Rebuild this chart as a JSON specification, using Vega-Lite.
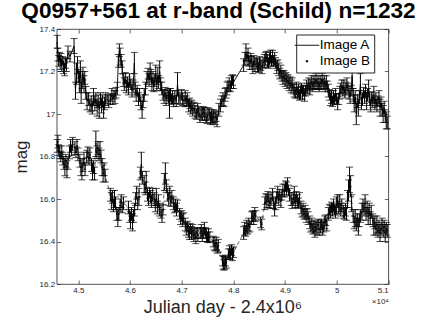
{
"$schema": "https://vega.github.io/schema/vega-lite/v6.json",
"width": 331.6, "height": 255,
"autosize": {"type": "none"},
"padding": {"left": 56.7, "top": 29, "right": 40.7, "bottom": 38},
"title": {"text": "Q0957+561 at r-band (Schild) n=1232", "font": "Liberation Sans", "fontSize": 22.6, "fontWeight": "bold", "color": "black", "anchor": "middle", "frame": "group", "baseline": "alphabetic", "offset": 11, "dx": -4, "dy": 26.5},
"datasets": {
"A": [
{"t":44590,"m":17.34,"e":0.03},{"t":44605,"m":17.28,"e":0.03},{"t":44620,"m":17.25,"e":0.025},{"t":44635,"m":17.27,"e":0.02},{"t":44650,"m":17.24,"e":0.03},{"t":44665,"m":17.26,"e":0.025},{"t":44680,"m":17.23,"e":0.03},{"t":44700,"m":17.25,"e":0.02},{"t":44715,"m":17.22,"e":0.03},{"t":44735,"m":17.21,"e":0.03},{"t":44750,"m":17.24,"e":0.025},{"t":44770,"m":17.23,"e":0.03},{"t":44800,"m":17.29,"e":0.03},{"t":44840,"m":17.27,"e":0.025},{"t":44918,"m":17.32,"e":0.035},{"t":44945,"m":17.11,"e":0.04},{"t":44965,"m":17.19,"e":0.05},{"t":44985,"m":17.23,"e":0.04},{"t":45000,"m":17.18,"e":0.03},{"t":45020,"m":17.15,"e":0.05},{"t":45040,"m":17.21,"e":0.04},{"t":45055,"m":17.10,"e":0.05},{"t":45075,"m":17.16,"e":0.04},{"t":45090,"m":17.19,"e":0.03},{"t":45110,"m":17.14,"e":0.04},{"t":45125,"m":17.17,"e":0.03},{"t":45145,"m":17.10,"e":0.03},{"t":45170,"m":17.06,"e":0.04},{"t":45200,"m":17.07,"e":0.03},{"t":45225,"m":17.04,"e":0.03},{"t":45250,"m":17.05,"e":0.035},{"t":45270,"m":17.03,"e":0.03},{"t":45295,"m":17.08,"e":0.04},{"t":45320,"m":17.05,"e":0.035},{"t":45340,"m":17.07,"e":0.03},{"t":45365,"m":17.03,"e":0.04},{"t":45385,"m":17.06,"e":0.03},{"t":45405,"m":17.02,"e":0.04},{"t":45430,"m":17.07,"e":0.03},{"t":45450,"m":17.04,"e":0.035},{"t":45470,"m":17.06,"e":0.03},{"t":45490,"m":17.02,"e":0.04},{"t":45510,"m":17.05,"e":0.03},{"t":45530,"m":17.07,"e":0.03},{"t":45560,"m":17.07,"e":0.02},{"t":45590,"m":17.06,"e":0.03},{"t":45620,"m":17.07,"e":0.025},{"t":45650,"m":17.09,"e":0.03},{"t":45670,"m":17.07,"e":0.025},{"t":45690,"m":17.09,"e":0.02},{"t":45710,"m":17.08,"e":0.03},{"t":45730,"m":17.10,"e":0.025},{"t":45755,"m":17.12,"e":0.03},{"t":45775,"m":17.25,"e":0.03},{"t":45795,"m":17.30,"e":0.03},{"t":45810,"m":17.27,"e":0.04},{"t":45830,"m":17.25,"e":0.03},{"t":45850,"m":17.22,"e":0.03},{"t":45870,"m":17.16,"e":0.03},{"t":45890,"m":17.14,"e":0.03},{"t":45910,"m":17.17,"e":0.025},{"t":45930,"m":17.13,"e":0.03},{"t":45950,"m":17.15,"e":0.025},{"t":45970,"m":17.12,"e":0.03},{"t":45990,"m":17.16,"e":0.03},{"t":46015,"m":17.14,"e":0.025},{"t":46040,"m":17.11,"e":0.03},{"t":46060,"m":17.13,"e":0.03},{"t":46085,"m":17.24,"e":0.05},{"t":46100,"m":17.12,"e":0.03},{"t":46120,"m":17.09,"e":0.03},{"t":46140,"m":17.11,"e":0.025},{"t":46165,"m":17.07,"e":0.03},{"t":46185,"m":17.09,"e":0.03},{"t":46210,"m":17.05,"e":0.03},{"t":46235,"m":17.02,"e":0.04},{"t":46255,"m":17.06,"e":0.03},{"t":46275,"m":17.09,"e":0.03},{"t":46300,"m":17.12,"e":0.03},{"t":46330,"m":17.17,"e":0.03},{"t":46350,"m":17.19,"e":0.025},{"t":46370,"m":17.16,"e":0.03},{"t":46390,"m":17.20,"e":0.04},{"t":46410,"m":17.18,"e":0.03},{"t":46425,"m":17.14,"e":0.03},{"t":46445,"m":17.17,"e":0.03},{"t":46460,"m":17.13,"e":0.025},{"t":46480,"m":17.16,"e":0.03},{"t":46500,"m":17.19,"e":0.04},{"t":46520,"m":17.14,"e":0.03},{"t":46540,"m":17.18,"e":0.04},{"t":46555,"m":17.15,"e":0.03},{"t":46575,"m":17.20,"e":0.05},{"t":46595,"m":17.14,"e":0.03},{"t":46615,"m":17.12,"e":0.03},{"t":46640,"m":17.09,"e":0.025},{"t":46660,"m":17.08,"e":0.03},{"t":46680,"m":17.10,"e":0.025},{"t":46700,"m":17.07,"e":0.03},{"t":46720,"m":17.09,"e":0.025},{"t":46745,"m":17.08,"e":0.03},{"t":46765,"m":17.05,"e":0.07},{"t":46785,"m":17.09,"e":0.03},{"t":46805,"m":17.07,"e":0.025},{"t":46825,"m":17.08,"e":0.03},{"t":46845,"m":17.06,"e":0.025},{"t":46870,"m":17.08,"e":0.03},{"t":46895,"m":17.06,"e":0.025},{"t":46920,"m":17.14,"e":0.055},{"t":46945,"m":17.08,"e":0.03},{"t":46970,"m":17.07,"e":0.025},{"t":47000,"m":17.09,"e":0.025},{"t":47020,"m":17.07,"e":0.03},{"t":47045,"m":17.06,"e":0.025},{"t":47070,"m":17.08,"e":0.03},{"t":47090,"m":17.06,"e":0.025},{"t":47110,"m":17.07,"e":0.03},{"t":47135,"m":17.04,"e":0.03},{"t":47155,"m":17.05,"e":0.025},{"t":47175,"m":17.03,"e":0.03},{"t":47195,"m":17.04,"e":0.025},{"t":47215,"m":17.02,"e":0.03},{"t":47240,"m":17.03,"e":0.025},{"t":47260,"m":17.01,"e":0.03},{"t":47285,"m":17.00,"e":0.025},{"t":47310,"m":17.02,"e":0.03},{"t":47330,"m":17.01,"e":0.025},{"t":47355,"m":16.99,"e":0.03},{"t":47380,"m":17.00,"e":0.025},{"t":47400,"m":17.00,"e":0.03},{"t":47420,"m":17.01,"e":0.025},{"t":47445,"m":17.00,"e":0.03},{"t":47470,"m":16.99,"e":0.03},{"t":47490,"m":16.98,"e":0.025},{"t":47510,"m":17.00,"e":0.03},{"t":47535,"m":17.00,"e":0.025},{"t":47560,"m":16.98,"e":0.03},{"t":47580,"m":16.99,"e":0.03},{"t":47600,"m":16.98,"e":0.025},{"t":47620,"m":16.99,"e":0.03},{"t":47645,"m":16.98,"e":0.03},{"t":47665,"m":16.99,"e":0.025},{"t":47685,"m":16.97,"e":0.03},{"t":47720,"m":17.02,"e":0.03},{"t":47750,"m":17.04,"e":0.03},{"t":47775,"m":17.06,"e":0.025},{"t":47800,"m":17.07,"e":0.03},{"t":47820,"m":17.06,"e":0.025},{"t":47840,"m":17.09,"e":0.03},{"t":47860,"m":17.10,"e":0.025},{"t":47880,"m":17.12,"e":0.03},{"t":47900,"m":17.13,"e":0.025},{"t":47920,"m":17.14,"e":0.03},{"t":47945,"m":17.13,"e":0.025},{"t":47965,"m":17.15,"e":0.03},{"t":47985,"m":17.16,"e":0.025},{"t":48005,"m":17.15,"e":0.03},{"t":48200,"m":17.23,"e":0.03},{"t":48225,"m":17.26,"e":0.03},{"t":48245,"m":17.29,"e":0.04},{"t":48265,"m":17.26,"e":0.03},{"t":48285,"m":17.28,"e":0.03},{"t":48300,"m":17.25,"e":0.025},{"t":48320,"m":17.24,"e":0.03},{"t":48340,"m":17.26,"e":0.025},{"t":48360,"m":17.24,"e":0.03},{"t":48380,"m":17.22,"e":0.03},{"t":48400,"m":17.25,"e":0.025},{"t":48420,"m":17.23,"e":0.03},{"t":48445,"m":17.24,"e":0.025},{"t":48470,"m":17.23,"e":0.03},{"t":48490,"m":17.22,"e":0.025},{"t":48510,"m":17.24,"e":0.03},{"t":48530,"m":17.23,"e":0.025},{"t":48555,"m":17.22,"e":0.03},{"t":48575,"m":17.24,"e":0.025},{"t":48600,"m":17.25,"e":0.03},{"t":48620,"m":17.26,"e":0.03},{"t":48640,"m":17.27,"e":0.025},{"t":48660,"m":17.25,"e":0.03},{"t":48680,"m":17.24,"e":0.025},{"t":48700,"m":17.26,"e":0.03},{"t":48720,"m":17.27,"e":0.03},{"t":48740,"m":17.25,"e":0.025},{"t":48760,"m":17.27,"e":0.03},{"t":48780,"m":17.25,"e":0.025},{"t":48800,"m":17.26,"e":0.03},{"t":48820,"m":17.24,"e":0.025},{"t":48840,"m":17.22,"e":0.03},{"t":48860,"m":17.23,"e":0.025},{"t":48880,"m":17.21,"e":0.03},{"t":48900,"m":17.19,"e":0.025},{"t":48920,"m":17.20,"e":0.03},{"t":48940,"m":17.18,"e":0.025},{"t":48960,"m":17.17,"e":0.03},{"t":48980,"m":17.18,"e":0.025},{"t":49000,"m":17.16,"e":0.03},{"t":49020,"m":17.17,"e":0.025},{"t":49040,"m":17.15,"e":0.03},{"t":49060,"m":17.16,"e":0.025},{"t":49080,"m":17.14,"e":0.03},{"t":49100,"m":17.15,"e":0.025},{"t":49120,"m":17.13,"e":0.03},{"t":49140,"m":17.14,"e":0.03},{"t":49160,"m":17.12,"e":0.025},{"t":49180,"m":17.11,"e":0.03},{"t":49200,"m":17.10,"e":0.025},{"t":49220,"m":17.12,"e":0.03},{"t":49240,"m":17.10,"e":0.025},{"t":49260,"m":17.11,"e":0.03},{"t":49280,"m":17.09,"e":0.025},{"t":49300,"m":17.10,"e":0.03},{"t":49320,"m":17.12,"e":0.025},{"t":49340,"m":17.10,"e":0.03},{"t":49360,"m":17.11,"e":0.025},{"t":49380,"m":17.09,"e":0.03},{"t":49400,"m":17.11,"e":0.025},{"t":49420,"m":17.13,"e":0.03},{"t":49440,"m":17.12,"e":0.025},{"t":49460,"m":17.14,"e":0.03},{"t":49480,"m":17.12,"e":0.03},{"t":49500,"m":17.14,"e":0.025},{"t":49520,"m":17.15,"e":0.03},{"t":49540,"m":17.13,"e":0.025},{"t":49560,"m":17.15,"e":0.03},{"t":49580,"m":17.14,"e":0.025},{"t":49600,"m":17.16,"e":0.03},{"t":49620,"m":17.14,"e":0.025},{"t":49640,"m":17.15,"e":0.03},{"t":49660,"m":17.13,"e":0.025},{"t":49680,"m":17.15,"e":0.03},{"t":49700,"m":17.14,"e":0.025},{"t":49720,"m":17.16,"e":0.03},{"t":49740,"m":17.14,"e":0.025},{"t":49760,"m":17.15,"e":0.03},{"t":49780,"m":17.13,"e":0.025},{"t":49800,"m":17.15,"e":0.03},{"t":49820,"m":17.13,"e":0.025},{"t":49840,"m":17.11,"e":0.03},{"t":49860,"m":17.09,"e":0.025},{"t":49880,"m":17.07,"e":0.03},{"t":49900,"m":17.08,"e":0.03},{"t":49920,"m":17.06,"e":0.025},{"t":49940,"m":17.08,"e":0.03},{"t":49960,"m":17.07,"e":0.025},{"t":49980,"m":17.09,"e":0.03},{"t":50000,"m":17.07,"e":0.025},{"t":50020,"m":17.05,"e":0.03},{"t":50040,"m":17.07,"e":0.025},{"t":50060,"m":17.10,"e":0.03},{"t":50080,"m":17.12,"e":0.025},{"t":50100,"m":17.13,"e":0.03},{"t":50120,"m":17.11,"e":0.025},{"t":50140,"m":17.13,"e":0.03},{"t":50160,"m":17.10,"e":0.025},{"t":50180,"m":17.12,"e":0.03},{"t":50200,"m":17.14,"e":0.03},{"t":50220,"m":17.12,"e":0.025},{"t":50240,"m":17.10,"e":0.03},{"t":50260,"m":17.08,"e":0.03},{"t":50280,"m":17.11,"e":0.025},{"t":50300,"m":17.18,"e":0.06},{"t":50320,"m":17.09,"e":0.03},{"t":50340,"m":17.05,"e":0.04},{"t":50360,"m":17.08,"e":0.03},{"t":50380,"m":17.00,"e":0.05},{"t":50400,"m":17.06,"e":0.03},{"t":50420,"m":17.03,"e":0.04},{"t":50440,"m":17.08,"e":0.03},{"t":50460,"m":17.14,"e":0.05},{"t":50480,"m":17.05,"e":0.03},{"t":50500,"m":17.07,"e":0.03},{"t":50520,"m":17.10,"e":0.025},{"t":50540,"m":17.08,"e":0.03},{"t":50560,"m":17.11,"e":0.03},{"t":50580,"m":17.06,"e":0.04},{"t":50600,"m":17.09,"e":0.03},{"t":50620,"m":17.12,"e":0.04},{"t":50640,"m":17.07,"e":0.03},{"t":50660,"m":17.04,"e":0.03},{"t":50680,"m":17.08,"e":0.025},{"t":50700,"m":17.06,"e":0.03},{"t":50720,"m":17.09,"e":0.04},{"t":50740,"m":17.05,"e":0.03},{"t":50760,"m":17.07,"e":0.03},{"t":50780,"m":17.04,"e":0.03},{"t":50800,"m":17.06,"e":0.025},{"t":50820,"m":17.08,"e":0.03},{"t":50840,"m":17.03,"e":0.04},{"t":50860,"m":17.05,"e":0.03},{"t":50880,"m":17.02,"e":0.03},{"t":50900,"m":17.00,"e":0.04},{"t":50920,"m":17.03,"e":0.03},{"t":50940,"m":16.99,"e":0.03},{"t":50960,"m":16.97,"e":0.04},{"t":50980,"m":16.96,"e":0.03}
],
"B": [
{"t":44590,"m":16.85,"e":0.03},{"t":44605,"m":16.87,"e":0.03},{"t":44620,"m":16.83,"e":0.025},{"t":44640,"m":16.82,"e":0.03},{"t":44660,"m":16.80,"e":0.025},{"t":44680,"m":16.82,"e":0.03},{"t":44700,"m":16.79,"e":0.03},{"t":44720,"m":16.77,"e":0.03},{"t":44740,"m":16.75,"e":0.04},{"t":44760,"m":16.78,"e":0.03},{"t":44780,"m":16.74,"e":0.04},{"t":44800,"m":16.77,"e":0.03},{"t":44830,"m":16.82,"e":0.03},{"t":44850,"m":16.85,"e":0.03},{"t":44870,"m":16.83,"e":0.025},{"t":44890,"m":16.86,"e":0.03},{"t":44935,"m":16.84,"e":0.03},{"t":44955,"m":16.82,"e":0.025},{"t":44975,"m":16.85,"e":0.03},{"t":44995,"m":16.81,"e":0.03},{"t":45030,"m":16.78,"e":0.03},{"t":45050,"m":16.75,"e":0.04},{"t":45070,"m":16.73,"e":0.04},{"t":45090,"m":16.76,"e":0.03},{"t":45110,"m":16.79,"e":0.03},{"t":45130,"m":16.74,"e":0.03},{"t":45165,"m":16.80,"e":0.03},{"t":45185,"m":16.82,"e":0.025},{"t":45205,"m":16.79,"e":0.03},{"t":45225,"m":16.81,"e":0.03},{"t":45255,"m":16.76,"e":0.03},{"t":45275,"m":16.73,"e":0.04},{"t":45295,"m":16.75,"e":0.03},{"t":45315,"m":16.72,"e":0.03},{"t":45340,"m":16.86,"e":0.06},{"t":45360,"m":16.82,"e":0.03},{"t":45380,"m":16.84,"e":0.03},{"t":45400,"m":16.81,"e":0.03},{"t":45420,"m":16.83,"e":0.04},{"t":45440,"m":16.80,"e":0.03},{"t":45460,"m":16.75,"e":0.04},{"t":45480,"m":16.72,"e":0.04},{"t":45500,"m":16.74,"e":0.03},{"t":45520,"m":16.71,"e":0.03},{"t":45620,"m":16.62,"e":0.03},{"t":45640,"m":16.59,"e":0.04},{"t":45660,"m":16.61,"e":0.03},{"t":45680,"m":16.57,"e":0.03},{"t":45700,"m":16.60,"e":0.04},{"t":45720,"m":16.58,"e":0.03},{"t":45745,"m":16.53,"e":0.03},{"t":45765,"m":16.51,"e":0.04},{"t":45785,"m":16.53,"e":0.03},{"t":45810,"m":16.57,"e":0.03},{"t":45830,"m":16.59,"e":0.03},{"t":45850,"m":16.56,"e":0.025},{"t":45875,"m":16.58,"e":0.03},{"t":45970,"m":16.56,"e":0.03},{"t":45990,"m":16.52,"e":0.03},{"t":46010,"m":16.50,"e":0.04},{"t":46030,"m":16.53,"e":0.03},{"t":46050,"m":16.49,"e":0.04},{"t":46070,"m":16.52,"e":0.03},{"t":46090,"m":16.55,"e":0.03},{"t":46110,"m":16.60,"e":0.03},{"t":46130,"m":16.63,"e":0.03},{"t":46150,"m":16.58,"e":0.03},{"t":46175,"m":16.61,"e":0.04},{"t":46200,"m":16.72,"e":0.03},{"t":46220,"m":16.76,"e":0.06},{"t":46240,"m":16.70,"e":0.03},{"t":46275,"m":16.67,"e":0.04},{"t":46295,"m":16.65,"e":0.03},{"t":46315,"m":16.68,"e":0.05},{"t":46340,"m":16.62,"e":0.03},{"t":46360,"m":16.60,"e":0.03},{"t":46380,"m":16.63,"e":0.025},{"t":46400,"m":16.61,"e":0.03},{"t":46420,"m":16.59,"e":0.03},{"t":46440,"m":16.62,"e":0.03},{"t":46470,"m":16.60,"e":0.03},{"t":46490,"m":16.57,"e":0.03},{"t":46510,"m":16.61,"e":0.04},{"t":46530,"m":16.56,"e":0.03},{"t":46550,"m":16.59,"e":0.03},{"t":46570,"m":16.55,"e":0.03},{"t":46600,"m":16.54,"e":0.03},{"t":46620,"m":16.52,"e":0.03},{"t":46640,"m":16.55,"e":0.025},{"t":46665,"m":16.68,"e":0.04},{"t":46685,"m":16.72,"e":0.05},{"t":46705,"m":16.66,"e":0.03},{"t":46730,"m":16.62,"e":0.03},{"t":46750,"m":16.60,"e":0.03},{"t":46770,"m":16.63,"e":0.03},{"t":46790,"m":16.59,"e":0.025},{"t":46810,"m":16.61,"e":0.03},{"t":46840,"m":16.58,"e":0.03},{"t":46860,"m":16.56,"e":0.025},{"t":46880,"m":16.57,"e":0.03},{"t":46900,"m":16.55,"e":0.03},{"t":46920,"m":16.57,"e":0.025},{"t":46960,"m":16.53,"e":0.025},{"t":46980,"m":16.51,"e":0.03},{"t":47000,"m":16.52,"e":0.025},{"t":47020,"m":16.50,"e":0.03},{"t":47040,"m":16.51,"e":0.025},{"t":47070,"m":16.48,"e":0.03},{"t":47090,"m":16.46,"e":0.03},{"t":47110,"m":16.47,"e":0.025},{"t":47130,"m":16.45,"e":0.03},{"t":47150,"m":16.44,"e":0.03},{"t":47170,"m":16.46,"e":0.025},{"t":47190,"m":16.44,"e":0.03},{"t":47215,"m":16.45,"e":0.03},{"t":47235,"m":16.43,"e":0.03},{"t":47255,"m":16.44,"e":0.025},{"t":47275,"m":16.42,"e":0.03},{"t":47295,"m":16.44,"e":0.025},{"t":47315,"m":16.43,"e":0.03},{"t":47360,"m":16.44,"e":0.025},{"t":47380,"m":16.45,"e":0.03},{"t":47400,"m":16.43,"e":0.03},{"t":47420,"m":16.44,"e":0.025},{"t":47440,"m":16.46,"e":0.03},{"t":47460,"m":16.44,"e":0.025},{"t":47480,"m":16.43,"e":0.03},{"t":47500,"m":16.42,"e":0.025},{"t":47520,"m":16.43,"e":0.03},{"t":47545,"m":16.42,"e":0.025},{"t":47610,"m":16.40,"e":0.025},{"t":47630,"m":16.39,"e":0.03},{"t":47650,"m":16.38,"e":0.025},{"t":47670,"m":16.39,"e":0.03},{"t":47690,"m":16.37,"e":0.025},{"t":47710,"m":16.38,"e":0.03},{"t":47790,"m":16.31,"e":0.025},{"t":47805,"m":16.30,"e":0.03},{"t":47820,"m":16.29,"e":0.025},{"t":47835,"m":16.30,"e":0.03},{"t":47850,"m":16.31,"e":0.025},{"t":47865,"m":16.30,"e":0.025},{"t":47905,"m":16.34,"e":0.025},{"t":47925,"m":16.35,"e":0.03},{"t":47945,"m":16.34,"e":0.025},{"t":47965,"m":16.36,"e":0.025},{"t":47985,"m":16.34,"e":0.03},{"t":48005,"m":16.35,"e":0.025},{"t":48200,"m":16.44,"e":0.03},{"t":48220,"m":16.46,"e":0.03},{"t":48240,"m":16.45,"e":0.025},{"t":48260,"m":16.47,"e":0.03},{"t":48280,"m":16.46,"e":0.025},{"t":48300,"m":16.48,"e":0.03},{"t":48320,"m":16.47,"e":0.025},{"t":48355,"m":16.51,"e":0.03},{"t":48375,"m":16.52,"e":0.025},{"t":48395,"m":16.51,"e":0.03},{"t":48415,"m":16.53,"e":0.03},{"t":48435,"m":16.52,"e":0.025},{"t":48530,"m":16.49,"e":0.025},{"t":48550,"m":16.48,"e":0.025},{"t":48610,"m":16.58,"e":0.03},{"t":48630,"m":16.60,"e":0.025},{"t":48650,"m":16.59,"e":0.03},{"t":48670,"m":16.61,"e":0.025},{"t":48690,"m":16.59,"e":0.03},{"t":48710,"m":16.58,"e":0.025},{"t":48730,"m":16.60,"e":0.03},{"t":48760,"m":16.62,"e":0.03},{"t":48780,"m":16.58,"e":0.025},{"t":48800,"m":16.55,"e":0.03},{"t":48820,"m":16.58,"e":0.03},{"t":48840,"m":16.61,"e":0.025},{"t":48860,"m":16.63,"e":0.03},{"t":48880,"m":16.60,"e":0.03},{"t":48900,"m":16.62,"e":0.025},{"t":48920,"m":16.59,"e":0.03},{"t":48940,"m":16.62,"e":0.025},{"t":48960,"m":16.64,"e":0.03},{"t":48990,"m":16.64,"e":0.03},{"t":49010,"m":16.66,"e":0.025},{"t":49030,"m":16.65,"e":0.03},{"t":49050,"m":16.67,"e":0.03},{"t":49070,"m":16.64,"e":0.025},{"t":49090,"m":16.62,"e":0.03},{"t":49120,"m":16.60,"e":0.03},{"t":49140,"m":16.58,"e":0.025},{"t":49160,"m":16.60,"e":0.03},{"t":49180,"m":16.62,"e":0.04},{"t":49200,"m":16.59,"e":0.03},{"t":49220,"m":16.61,"e":0.025},{"t":49240,"m":16.59,"e":0.03},{"t":49260,"m":16.58,"e":0.025},{"t":49280,"m":16.60,"e":0.03},{"t":49310,"m":16.56,"e":0.03},{"t":49330,"m":16.54,"e":0.025},{"t":49350,"m":16.55,"e":0.03},{"t":49370,"m":16.53,"e":0.025},{"t":49390,"m":16.54,"e":0.03},{"t":49410,"m":16.52,"e":0.03},{"t":49430,"m":16.53,"e":0.025},{"t":49450,"m":16.51,"e":0.03},{"t":49480,"m":16.49,"e":0.03},{"t":49500,"m":16.47,"e":0.025},{"t":49520,"m":16.48,"e":0.03},{"t":49540,"m":16.46,"e":0.025},{"t":49560,"m":16.47,"e":0.03},{"t":49580,"m":16.45,"e":0.03},{"t":49600,"m":16.47,"e":0.025},{"t":49620,"m":16.46,"e":0.03},{"t":49640,"m":16.48,"e":0.025},{"t":49660,"m":16.46,"e":0.03},{"t":49690,"m":16.47,"e":0.03},{"t":49710,"m":16.48,"e":0.025},{"t":49730,"m":16.46,"e":0.03},{"t":49750,"m":16.47,"e":0.025},{"t":49770,"m":16.49,"e":0.03},{"t":49790,"m":16.50,"e":0.025},{"t":49810,"m":16.48,"e":0.03},{"t":49840,"m":16.53,"e":0.03},{"t":49860,"m":16.55,"e":0.025},{"t":49880,"m":16.54,"e":0.03},{"t":49900,"m":16.56,"e":0.025},{"t":49920,"m":16.55,"e":0.03},{"t":49940,"m":16.57,"e":0.03},{"t":49960,"m":16.55,"e":0.025},{"t":49980,"m":16.54,"e":0.03},{"t":50000,"m":16.57,"e":0.04},{"t":50020,"m":16.59,"e":0.03},{"t":50040,"m":16.56,"e":0.03},{"t":50060,"m":16.58,"e":0.04},{"t":50080,"m":16.55,"e":0.03},{"t":50100,"m":16.57,"e":0.03},{"t":50130,"m":16.54,"e":0.03},{"t":50150,"m":16.53,"e":0.025},{"t":50170,"m":16.55,"e":0.03},{"t":50190,"m":16.53,"e":0.03},{"t":50210,"m":16.60,"e":0.04},{"t":50230,"m":16.64,"e":0.05},{"t":50250,"m":16.69,"e":0.06},{"t":50270,"m":16.66,"e":0.05},{"t":50290,"m":16.58,"e":0.04},{"t":50320,"m":16.52,"e":0.03},{"t":50340,"m":16.49,"e":0.03},{"t":50360,"m":16.51,"e":0.04},{"t":50380,"m":16.48,"e":0.03},{"t":50400,"m":16.50,"e":0.03},{"t":50420,"m":16.47,"e":0.04},{"t":50440,"m":16.50,"e":0.03},{"t":50460,"m":16.52,"e":0.03},{"t":50490,"m":16.54,"e":0.04},{"t":50510,"m":16.57,"e":0.03},{"t":50530,"m":16.55,"e":0.03},{"t":50550,"m":16.58,"e":0.04},{"t":50570,"m":16.53,"e":0.03},{"t":50590,"m":16.56,"e":0.03},{"t":50610,"m":16.52,"e":0.04},{"t":50630,"m":16.55,"e":0.03},{"t":50650,"m":16.51,"e":0.03},{"t":50670,"m":16.54,"e":0.03},{"t":50700,"m":16.50,"e":0.03},{"t":50720,"m":16.47,"e":0.04},{"t":50740,"m":16.49,"e":0.03},{"t":50760,"m":16.46,"e":0.03},{"t":50780,"m":16.48,"e":0.04},{"t":50800,"m":16.45,"e":0.03},{"t":50820,"m":16.47,"e":0.03},{"t":50840,"m":16.44,"e":0.04},{"t":50860,"m":16.46,"e":0.03},{"t":50880,"m":16.48,"e":0.03},{"t":50900,"m":16.45,"e":0.03},{"t":50920,"m":16.47,"e":0.03},{"t":50940,"m":16.44,"e":0.04},{"t":50960,"m":16.46,"e":0.03},{"t":50980,"m":16.45,"e":0.03}
]
},
"encoding": {
  "x": {"field": "t", "type": "quantitative", "scale": {"domain": [44582, 51000], "nice": false, "zero": false}, "axis": null},
  "y": {"field": "m", "type": "quantitative", "scale": {"domain": [16.2, 17.4], "nice": false, "zero": false}, "axis": null}
},
"layer": [
  {"data": {"name": "A"}, "mark": {"type": "errorbar", "color": "black", "thickness": 1, "ticks": {"size": 7, "strokeWidth": 1}}, "encoding": {"yError": {"field": "e"}}},
  {"data": {"name": "B"}, "mark": {"type": "errorbar", "color": "black", "thickness": 1, "ticks": {"size": 7, "strokeWidth": 1}}, "encoding": {"yError": {"field": "e"}}},
  {"data": {"name": "A"}, "mark": {"type": "line", "strokeWidth": 0.9},
   "encoding": {
     "x": {"field": "t", "type": "quantitative", "scale": {"domain": [44582, 51000], "nice": false, "zero": false},
           "axis": {"orient": "bottom", "values": [45000,46000,47000,48000,49000,50000,51000],
                    "labelExpr": "datum.value == 51000 ? ['5.1', '×10⁴\u00a0\u00a0\u00a0\u00a0\u00a0\u00a0\u00a0\u00a0'] : format(datum.value/10000, '.2~f')",
                    "labelLineHeight": 11, "labelOverlap": false, "labelBound": false,
                    "title": "Julian day - 2.4x10⁶", "titleFontSize": 18, "labelPadding": 6, "titlePadding": -7}},
     "y": {"field": "m", "type": "quantitative", "scale": {"domain": [16.2, 17.4], "nice": false, "zero": false},
           "axis": {"orient": "left", "values": [16.2,16.4,16.6,16.8,17,17.2,17.4], "format": ".3~g", "title": "mag", "labelPadding": 6, "titlePadding": 9}},
     "color": {"datum": "Image A", "type": "nominal", "scale": {"domain": ["Image A", "Image B"], "range": ["black", "black"]},
       "legend": {"title": null, "orient": "none", "legendX": 239.5, "legendY": 5.5, "strokeColor": "#262626", "fillColor": "white", "padding": 4,
         "labelFont": "Liberation Sans", "labelFontSize": 13.5, "labelColor": "black", "labelOffset": 6, "rowPadding": 1,
         "symbolType": "stroke", "symbolSize": 600, "symbolStrokeWidth": 0.9, "symbolStrokeColor": "black",
         "encode": {"symbols": {"update": {
           "shape": {"signal": "datum.value == 'Image A' ? 'stroke' : 'circle'"},
           "size": {"signal": "datum.value == 'Image A' ? 600 : 3"},
           "fill": {"value": "black"}, "stroke": {"value": "black"}}}}}}
   }},
  {"data": {"name": "B"}, "mark": {"type": "line", "strokeWidth": 0.6, "strokeDash": [4, 3]},
   "encoding": {
     "x": {"field": "t", "type": "quantitative", "scale": {"domain": [44582, 51000], "nice": false, "zero": false},
           "axis": {"orient": "top", "values": [45000,46000,47000,48000,49000,50000,51000], "labels": false, "title": null}},
     "y": {"field": "m", "type": "quantitative", "scale": {"domain": [16.2, 17.4], "nice": false, "zero": false},
           "axis": {"orient": "right", "values": [16.2,16.4,16.6,16.8,17,17.2,17.4], "labels": false, "title": null}},
     "color": {"datum": "Image B", "type": "nominal"}
   }},
  {"data": {"name": "B"}, "mark": {"type": "point", "filled": true, "size": 3, "color": "black", "opacity": 1}}
],
"resolve": {"axis": {"x": "independent", "y": "independent"}},
"config": {
  "view": {"stroke": "#262626", "strokeWidth": 0.8},
  "axis": {"domain": false, "grid": false, "tickColor": "#262626", "tickSize": -4, "tickWidth": 0.7,
           "labelColor": "#262626", "labelFont": "Liberation Sans", "labelFontSize": 8,
           "titleFont": "Liberation Sans", "titleFontSize": 17, "titleFontWeight": "normal", "titleColor": "#262626"}
}
}
